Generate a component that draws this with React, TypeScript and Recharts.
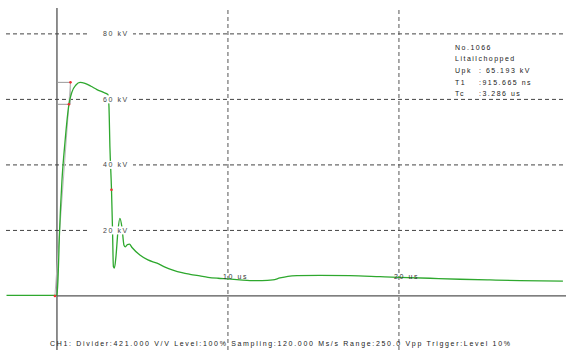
import { ComposedChart, Line, XAxis, YAxis, ReferenceLine, Scatter } from 'recharts';

// time in us, voltage in kV
const times = [
  -2.95, -2, -1, -0.2, 0, 0.06, 0.15, 0.29, 0.47, 0.7, 0.88, 1.11, 1.35, 1.64, 1.99, 2.34, 2.69, 2.98,
  3.04, 3.1, 3.19, 3.25, 3.3, 3.36, 3.45, 3.57, 3.68, 3.8, 3.92, 4.0, 4.12, 4.24, 4.39, 4.85, 5.32,
  5.85, 6.32, 6.78, 7.31, 7.78, 8.36, 8.83, 9.42, 10.0, 10.7, 11.29, 11.99, 12.63, 13.04, 13.51,
  14.04, 15.38, 17.13, 18.89, 20.0, 21.81, 23.57, 25.32, 27.08, 29.59,
];
const volts = [
  0.2, 0.2, 0.2, 0.2, 0.2, 5, 19.5, 35, 47, 58.5, 62.3, 64.4, 65.2, 64.9, 64.0, 63.0, 62.2, 61.5,
  58, 45, 32.4, 20, 9, 8.5, 12, 20, 23.7, 21, 15.5, 15, 15.7, 15.8, 14.8, 12.5, 11,
  10, 8.8, 7.9, 7.1, 6.6, 6.1, 5.7, 5.4, 5.2, 4.9, 4.7, 4.7, 4.9, 5.5, 6.0,
  6.2, 6.3, 6.2, 5.9, 5.7, 5.4, 5.1, 4.9, 4.7, 4.5,
];

const gridKv = [20, 40, 60, 80];
const gridUs = [10, 20];
const kvLabels = ['20 kV', '40 kV', '60 kV', '80 kV'];
const usLabels = ['10 us', '20 us'];

// evaluation markers
const markT = [-0.12, 0.7, 0.79, 3.19];
const markV = [0, 58.5, 65.2, 32.4];

const infoLines = [
  ['No.1066', ''],
  ['Litailchopped', ''],
  ['Upk', ': 65.193 kV'],
  ['T1', ':915.665 ns'],
  ['Tc', ':3.286 us'],
];
const footer = 'CH1: Divider:421.000 V/V  Level:100%  Sampling:120.000 Ms/s  Range:250.0 Vpp  Trigger:Level 10%';

const trace = times.map((t, i) => ({ t, v: volts[i] }));
const marks = markT.map((t, i) => ({ t, v: markV[i] }));
const kvPoints = gridKv.map((v, i) => ({ t: 2.75, v, label: kvLabels[i] }));
const usPoints = gridUs.map((t, i) => ({ t, v: 5.9, label: usLabels[i] }));

const FONT = 'Liberation Sans, Arial, sans-serif';
const X_MIN = -2.98;
const X_MAX = 29.77;

const KvLabel = (props: any) => {
  const { cx, cy, payload } = props;
  return (
    <g>
      <rect x={cx - 14} y={cy - 4} width={43} height={8} fill="#fff" />
      <text x={cx - 1} y={cy + 2.5} fontSize={7} fontFamily={FONT} fill="#444" letterSpacing={1.6}>
        {payload.label}
      </text>
    </g>
  );
};

const UsLabel = (props: any) => {
  const { cx, cy, payload } = props;
  return (
    <text x={cx - 5} y={cy + 2.5} fontSize={7} fontFamily={FONT} fill="#333" letterSpacing={1.6}>
      {payload.label}
    </text>
  );
};

const RedDot = (props: any) => {
  const { cx, cy } = props;
  return <circle cx={cx} cy={cy} r={1.3} fill="#f03030" />;
};

export default function App() {
  return (
    <div style={{ position: 'absolute', left: 0, top: 0, width: 566, height: 352, background: '#fff' }}>
      <ComposedChart width={566} height={352} data={trace} margin={{ top: 8, right: 0, bottom: 2, left: 6 }}>
        <XAxis type="number" dataKey="t" domain={[X_MIN, X_MAX]} hide allowDataOverflow />
        <YAxis type="number" domain={[-16.5, 87.9]} hide allowDataOverflow />
        {gridKv.map((v) => (
          <ReferenceLine key={`h${v}`} y={v} stroke="#444" strokeDasharray="4 3" />
        ))}
        {gridUs.map((t) => (
          <ReferenceLine key={`v${t}`} x={t} stroke="#555" strokeDasharray="4 3" />
        ))}
        <ReferenceLine x={0} stroke="#444" strokeWidth={1.2} />
        <ReferenceLine segment={[{ x: 0, y: 0 }, { x: X_MAX, y: 0 }]} stroke="#555" strokeWidth={1.2} />
        <ReferenceLine segment={[{ x: 0, y: 65.2 }, { x: 0.79, y: 65.2 }]} stroke="#999" />
        <ReferenceLine segment={[{ x: 0, y: 58.5 }, { x: 0.7, y: 58.5 }]} stroke="#999" />
        <ReferenceLine segment={[{ x: -0.12, y: 0 }, { x: 0.79, y: 65.2 }]} stroke="#bbb" />
        <ReferenceLine segment={[{ x: 0.79, y: 58.5 }, { x: 0.79, y: 65.2 }]} stroke="#bbb" />
        <Scatter data={kvPoints} dataKey="v" shape={KvLabel} isAnimationActive={false} />
        <Line
          type="monotone"
          dataKey="v"
          stroke="#2ea82e"
          strokeWidth={1.3}
          dot={false}
          isAnimationActive={false}
        />
        <Scatter data={usPoints} dataKey="v" shape={UsLabel} isAnimationActive={false} />
        <Scatter data={marks} dataKey="v" shape={RedDot} isAnimationActive={false} />
      </ComposedChart>
      <svg width={566} height={352} style={{ position: 'absolute', left: 0, top: 0, pointerEvents: 'none' }}>
        {infoLines.map(([k, val], i) => (
          <g key={k}>
            <text x={455} y={49.5 + i * 11.7} fontSize={7} fontFamily={FONT} fill="#222" letterSpacing={1.5}>
              {k}
            </text>
            {val && (
              <text x={479} y={49.5 + i * 11.7} fontSize={7} fontFamily={FONT} fill="#222" letterSpacing={1.5}>
                {val}
              </text>
            )}
          </g>
        ))}
        <text x={50} y={346} fontSize={7} fontFamily={FONT} fill="#222" textLength={460} lengthAdjust="spacing">
          {footer}
        </text>
      </svg>
    </div>
  );
}
